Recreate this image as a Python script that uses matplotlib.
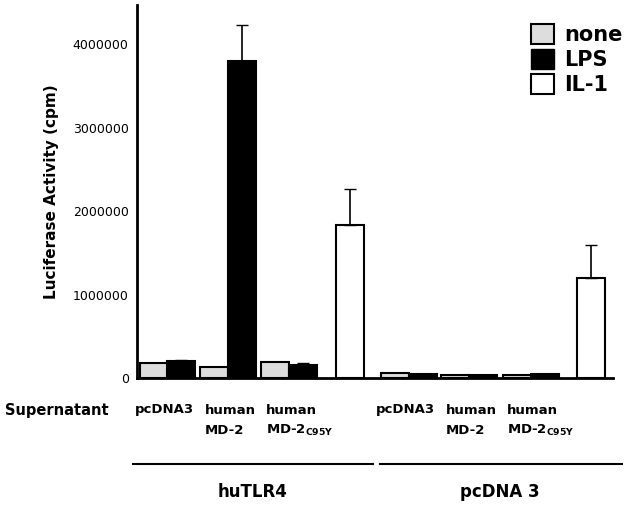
import matplotlib
matplotlib.use("Agg")
from matplotlib import pyplot as plt
from matplotlib.patches import Patch

# bar left edges (layout, pixel-like units) and values
none_x = [140, 200, 261, 381, 441, 503]
none_vals = [180000, 130000, 190000, 65000, 35000, 35000]
none_err = [15000, 10000, 12000, 5000, 3000, 8000]
lps_x = [167, 228, 289, 409, 469, 531]
lps_vals = [205000, 3800000, 160000, 45000, 38000, 45000]
lps_err = [5000, 430000, 20000, 4000, 3000, 4000]
il1_x = [336, 577]
il1_vals = [1830000, 1200000]
il1_err = [430000, 390000]
w = 28

fig = plt.figure(figsize=(6.4, 5.08), dpi=100)
ax = fig.add_axes([137 / 640, 1 - 378 / 508, (613 - 137) / 640, 373 / 508])

ax.bar(none_x, none_vals, w, align="edge", color="#dddddd", edgecolor="black", lw=1.5,
       yerr=[[0] * 6, none_err], error_kw=dict(ecolor="black", capsize=0, lw=1.2))
ax.bar(lps_x, lps_vals, w, align="edge", color="black", edgecolor="black", lw=1.5,
       yerr=[[0] * 6, lps_err], error_kw=dict(ecolor="black", capsize=4, lw=1.2))
ax.errorbar([x + w / 2 for x in il1_x], il1_vals, yerr=[[0, 0], il1_err], fmt="none",
            ecolor="black", capsize=4, lw=1.2)
ax.bar(il1_x, il1_vals, w, align="edge", color="white", edgecolor="black", lw=1.5)

ax.set_xlim(137, 613)
ax.set_ylim(0, 4470000)
ax.set_yticks([0, 1000000, 2000000, 3000000, 4000000])
ax.set_yticklabels(["0", "1000000", "2000000", "3000000", "4000000"], fontsize=9)
ax.set_xticks([])
ax.tick_params(axis="y", length=0, pad=6)
for s in ["top", "right"]:
    ax.spines[s].set_visible(False)
for s in ["left", "bottom"]:
    ax.spines[s].set_linewidth(2)
ax.set_ylabel("Luciferase Activity (cpm)", fontsize=11, fontweight="bold", labelpad=10)

ax.legend(handles=[Patch(facecolor="#dddddd", edgecolor="black", lw=1.5, label="none"),
                   Patch(facecolor="black", edgecolor="black", label="LPS"),
                   Patch(facecolor="white", edgecolor="black", lw=1.5, label="IL-1")],
          loc="upper right", bbox_to_anchor=(1.06, 1.0), frameon=False,
          prop=dict(size=15, weight="bold"), handlelength=1.1, handleheight=1.1,
          labelspacing=0.2, handletextpad=0.5)

def fx(px):
    return px / 640

def fy(py):
    return 1 - py / 508

fig.text(fx(5), fy(410), "Supernatant", fontsize=10.5, fontweight="bold", va="center")
for base in [0, 241]:
    fig.text(fx(135 + base), fy(410), "pcDNA3", fontsize=9.5, fontweight="bold", va="center")
    fig.text(fx(205 + base), fy(410), "human", fontsize=9.5, fontweight="bold", va="center")
    fig.text(fx(205 + base), fy(430), "MD-2", fontsize=9.5, fontweight="bold", va="center")
    fig.text(fx(266 + base), fy(410), "human", fontsize=9.5, fontweight="bold", va="center")
    fig.text(fx(266 + base), fy(430), r"MD-2$_{\mathbf{C95Y}}$", fontsize=9.5,
             fontweight="bold", va="center")

fig.add_artist(plt.Line2D([fx(133), fx(373)], [fy(464), fy(464)], color="black", lw=1.5))
fig.add_artist(plt.Line2D([fx(380), fx(622)], [fy(464), fy(464)], color="black", lw=1.5))
fig.text(fx(253), fy(492), "huTLR4", fontsize=12, fontweight="bold", ha="center", va="center")
fig.text(fx(500), fy(492), "pcDNA 3", fontsize=12, fontweight="bold", ha="center", va="center")

fig.savefig("out.png", dpi=100)
